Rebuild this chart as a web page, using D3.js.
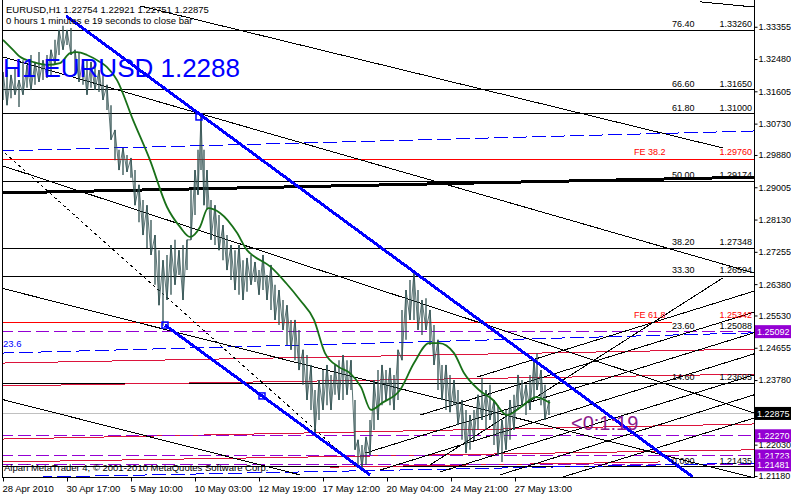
<!DOCTYPE html>
<html>
<head>
<meta charset="utf-8">
<script src="https://cdn.jsdelivr.net/npm/d3@7"></script>
<style>
  body { margin: 0; background: #fff; }
  svg { display: block; font-family: "Liberation Sans", Arial, sans-serif; }
</style>
</head>
<body>
<svg id="chart" width="791" height="495"></svg>
<script>
// ---- price bars (hour index from 28 Apr 00:00, high / low) ----
const barHour = [0,4,8,12,16,20,24,28,32,36,40,44,48,52,56,60,64,68,72,76,80,84,88,92,96,100,104,108,112,116,120,124,128,132,136,140,144,148,152,156,160,164,168,172,176,180,184,188,192,195,198,201,204,208,212,216,220,224,228,232,236,240,244,248,252,256,260,264,268,272,276,280,284,288,292,296,300,304,308,312,316,320,324,328,332,336,340,344,348,352,355,359,363,367,371,375,379,383,387,391,395,399,403,407,411,415,419,423,427,431,435,439,443,447,451,455,459,463,467,471,475,479,483,487,491,495,499,503,507,511,515,519,523,527,531,534,538,542,546];
const barHigh = [1.3213,1.3218,1.3205,1.3224,1.3191,1.3245,1.3232,1.3259,1.3240,1.3267,1.3245,1.3259,1.3273,1.3300,1.3327,1.3338,1.3327,1.3332,1.3273,1.3267,1.3245,1.3245,1.3240,1.3232,1.3218,1.3205,1.3178,1.3123,1.3056,1.3002,1.3007,1.2988,1.2980,1.2947,1.2907,1.2866,1.2852,1.2812,1.2771,1.2730,1.2703,1.2717,1.2744,1.2758,1.2730,1.2744,1.2758,1.2893,1.2947,1.3002,1.3091,1.3002,1.2947,1.2866,1.2852,1.2825,1.2798,1.2771,1.2744,1.2730,1.2744,1.2703,1.2709,1.2717,1.2698,1.2676,1.2717,1.2663,1.2690,1.2636,1.2622,1.2595,1.2581,1.2541,1.2541,1.2514,1.2460,1.2446,1.2419,1.2351,1.2378,1.2405,1.2419,1.2392,1.2419,1.2432,1.2446,1.2432,1.2432,1.2324,1.2216,1.2202,1.2224,1.2270,1.2378,1.2405,1.2419,1.2405,1.2411,1.2392,1.2460,1.2568,1.2622,1.2649,1.2671,1.2622,1.2595,1.2600,1.2568,1.2527,1.2487,1.2419,1.2419,1.2392,1.2378,1.2351,1.2324,1.2297,1.2283,1.2297,1.2338,1.2384,1.2351,1.2365,1.2324,1.2310,1.2270,1.2297,1.2324,1.2338,1.2392,1.2378,1.2365,1.2392,1.2432,1.2451,1.2405,1.2365,1.2324];
const barLow = [1.3137,1.3123,1.3142,1.3151,1.3118,1.3151,1.3170,1.3164,1.3178,1.3186,1.3191,1.3197,1.3205,1.3232,1.3259,1.3273,1.3286,1.3259,1.3205,1.3186,1.3178,1.3151,1.3170,1.3164,1.3159,1.3137,1.3110,1.3029,1.2974,1.2947,1.2934,1.2942,1.2926,1.2852,1.2806,1.2771,1.2736,1.2717,1.2636,1.2581,1.2525,1.2595,1.2609,1.2636,1.2663,1.2595,1.2676,1.2758,1.2825,1.2880,1.2947,1.2852,1.2839,1.2758,1.2744,1.2730,1.2703,1.2676,1.2649,1.2622,1.2609,1.2595,1.2617,1.2636,1.2644,1.2609,1.2622,1.2595,1.2568,1.2541,1.2527,1.2514,1.2473,1.2460,1.2432,1.2405,1.2365,1.2324,1.2297,1.2235,1.2270,1.2297,1.2310,1.2297,1.2338,1.2324,1.2324,1.2338,1.2351,1.2189,1.2145,1.2140,1.2148,1.2175,1.2243,1.2270,1.2310,1.2324,1.2310,1.2297,1.2324,1.2432,1.2487,1.2541,1.2541,1.2514,1.2500,1.2514,1.2473,1.2419,1.2351,1.2324,1.2297,1.2291,1.2310,1.2256,1.2216,1.2180,1.2189,1.2216,1.2243,1.2270,1.2243,1.2270,1.2202,1.2175,1.2156,1.2189,1.2216,1.2243,1.2297,1.2310,1.2283,1.2297,1.2324,1.2351,1.2310,1.2270,1.2283];

// ---- moving average ----
const maHour = [0,10,17,30,44,57,67,74,84,97,104,114,130,147,164,177,187,197,205,217,234,244,247,268,283,297,311,322,336,347,358,368,379,397,411,426,436,451,461,476,490,504,518,533,547];
const maPrice = [1.3300,1.3273,1.3254,1.3240,1.3232,1.3237,1.3264,1.3267,1.3259,1.3240,1.3226,1.3191,1.3083,1.2974,1.2847,1.2793,1.2766,1.2793,1.2844,1.2831,1.2777,1.2730,1.2722,1.2684,1.2641,1.2595,1.2541,1.2451,1.2413,1.2397,1.2359,1.2297,1.2316,1.2351,1.2424,1.2478,1.2478,1.2451,1.2397,1.2351,1.2324,1.2283,1.2305,1.2332,1.2316];

// ---- fibonacci / expansion levels ----
const fibPct = ["76.40","66.60","61.80","50.00","38.20","33.30","23.60","14.60","0.000"];
const fibPrice = [1.33260,1.31650,1.31000,1.29174,1.27348,1.26594,1.25088,1.23695,1.21435];
const fePct = ["FE 38.2","FE 61.8"];
const fePrice = [1.29760,1.25342];
const feEndHour = [751,669];

// ---- other horizontal objects ----
const violetLevels = [1.25092,1.22270,1.21723,1.21481];
const currentPrice = 1.22875;

// ---- trendlines: [hour0, price0, hour1, price1] ----
const blackLines = [
  [697,1.3403,751,1.3389],
  [137,1.3392,720,1.3007],
  [-3,1.3256,751,1.2668],
  [-3,1.2961,751,1.2289],
  [-3,1.2628,751,1.2113],
  [-3,1.2327,297,1.2121]
];
const fanLines = [
  [427,1.2148,720,1.2655],
  [474,1.2386,751,1.2619],
  [417,1.2283,751,1.2562],
  [362,1.2180,751,1.2506],
  [377,1.2134,751,1.2449],
  [437,1.2129,751,1.2392],
  [497,1.2121,751,1.2338],
  [557,1.2113,751,1.2275]
];
const dottedLine = [[2,1.2993,354,1.2142]];
const thickBlack = [[-3,1.2885,751,1.2928]];
const blueDashed = [
  [-3,1.2999,751,1.3053],
  [-3,1.2451,751,1.2506],
  [-3,1.2113,751,1.2153]
];
const crimsonLines = [
  [-3,1.2424,751,1.2462],
  [-3,1.2362,751,1.2394],
  [-3,1.2218,751,1.2259],
  [-3,1.2156,751,1.2189],
  [327,1.2142,657,1.2156]
];
const blueChannel = [
  [63,1.3365,690,1.2115],
  [162,1.2527,367,1.2121]
];
const anchorHour = [196,162,259];
const anchorPrice = [1.3091,1.2527,1.2335];

// ---- axes ----
const axisTicks = [1.33355,1.32480,1.31605,1.30730,1.29880,1.29005,1.28130,1.27255,1.26380,1.25530,1.24655,1.23780,1.22030,1.21180];
const timeTickHour = [0,64,128,192,256,320,384,448,512];
const timeLabels = ["28 Apr 2010","30 Apr 17:00","5 May 10:00","10 May 03:00","12 May 19:00","17 May 12:00","20 May 04:00","24 May 21:00","27 May 13:00"];

const x = d3.scaleLinear().domain([0, 751]).range([3, 754]);
const y = d3.scaleLinear().domain([1.2118, 1.3408]).range([476, 0]);

const svg = d3.select("#chart");
svg.append("rect").attr("width", 791).attr("height", 495).attr("fill", "#fff");
svg.append("defs").append("clipPath").attr("id", "plot")
  .append("rect").attr("x", 2).attr("y", 0).attr("width", 752).attr("height", 477);
const g = svg.append("g").attr("clip-path", "url(#plot)");

function drawLines(list, stroke, width, dash) {
  g.append("g").selectAll("line").data(list).enter().append("line")
    .attr("x1", d => x(d[0])).attr("y1", d => y(d[1]))
    .attr("x2", d => x(d[2])).attr("y2", d => y(d[3]))
    .attr("stroke", stroke).attr("stroke-width", width)
    .attr("stroke-dasharray", dash || null)
    .attr("shape-rendering", "crispEdges");
}
const hLine = (p, h0, h1) => [h0, p, h1, p];

// current price line
drawLines([hLine(currentPrice, -3, 751)], "#c0c0c0", 1);

// fibo levels (23.60 sits under the violet level, not drawn)
drawLines(fibPrice.filter((p, i) => fibPct[i] !== "23.60").map(p => hLine(p, -3, 751)), "#000", 1);
drawLines(fePrice.map((p, i) => hLine(p, -3, feEndHour[i])), "#ff0000", 1);

drawLines(crimsonLines, "#dc143c", 1);
drawLines(violetLevels.map(p => hLine(p, -3, 751)), "#9400d3", 1, "13,5");
drawLines(blueDashed, "#0000ff", 1, "14,5");
drawLines(blackLines, "#000", 1);
drawLines(fanLines, "#000", 1);
drawLines(dottedLine, "#000", 1, "3,3");
drawLines(thickBlack, "#000", 3);

// price bars
const bars = barHour.map((h, i) => ({ h, hi: barHigh[i], lo: barLow[i] }));
g.append("g").selectAll("line").data(bars).enter().append("line")
  .attr("x1", d => x(d.h)).attr("x2", d => x(d.h))
  .attr("y1", d => y(d.hi)).attr("y2", d => y(d.lo))
  .attr("stroke", "#2f4f4f").attr("stroke-width", 1.3);
g.append("path")
  .datum(bars)
  .attr("fill", "none").attr("stroke", "#2f4f4f").attr("stroke-width", 0.8)
  .attr("d", d3.line().x(d => x(d.h)).y((d, i) => y(i % 2 ? d.lo : d.hi)));

// moving average
g.append("path")
  .datum(maHour.map((h, i) => [h, maPrice[i]]))
  .attr("fill", "none").attr("stroke", "#187018").attr("stroke-width", 1.8)
  .attr("d", d3.line().x(d => x(d[0])).y(d => y(d[1])).curve(d3.curveMonotoneX));

// blue channel
drawLines(blueChannel, "#0000ff", 3);
g.append("g").selectAll("rect").data(anchorHour).enter().append("rect")
  .attr("x", (d, i) => x(d) - 3).attr("y", (d, i) => y(anchorPrice[i]) - 3)
  .attr("width", 6).attr("height", 6)
  .attr("fill", "none").attr("stroke", "#0000ff").attr("stroke-width", 1.5);

// frame
svg.append("line").attr("x1", 2.5).attr("x2", 2.5).attr("y1", 0).attr("y2", 477.5).attr("stroke", "#000");
svg.append("line").attr("x1", 2).attr("x2", 755).attr("y1", 477.5).attr("y2", 477.5).attr("stroke", "#000");
svg.append("line").attr("x1", 754.5).attr("x2", 754.5).attr("y1", 0).attr("y2", 478).attr("stroke", "#000");

// right price axis
const yAxis = svg.append("g").attr("transform", "translate(754.5,0)")
  .call(d3.axisRight(y).tickValues(axisTicks).tickFormat(d3.format(".5f")).tickSize(3).tickPadding(1));
yAxis.select(".domain").remove();
yAxis.selectAll("text").attr("font-size", 9).attr("font-family", "Liberation Sans, Arial, sans-serif").attr("fill", "#000");

// bottom time axis
const xAxis = svg.append("g").attr("transform", "translate(0,477.5)")
  .call(d3.axisBottom(x).tickValues(timeTickHour).tickFormat((d, i) => timeLabels[i]).tickSize(4).tickPadding(3));
xAxis.select(".domain").remove();
xAxis.selectAll("text").attr("text-anchor", "start").attr("dx", -1).attr("dy", "0.8em")
  .attr("font-size", 9.5).attr("font-family", "Liberation Sans, Arial, sans-serif").attr("fill", "#000");

// level labels
const lab = svg.append("g").attr("font-size", 9);
fibPct.forEach((t, i) => {
  const yy = y(fibPrice[i]) - 3;
  lab.append("text").attr("x", 672).attr("y", yy).text(t);
  lab.append("text").attr("x", 752).attr("y", yy).attr("text-anchor", "end").text(fibPrice[i].toFixed(5));
});
fePct.forEach((t, i) => {
  const yy = y(fePrice[i]) - 4;
  lab.append("text").attr("x", 634).attr("y", yy).attr("fill", "#ff0000").text(t);
  lab.append("text").attr("x", 752).attr("y", yy).attr("text-anchor", "end").attr("fill", "#ff0000").text(fePrice[i].toFixed(5));
});

// price boxes on the axis
const boxes = violetLevels.map(p => ({ p, c: "#9400d3" })).concat([{ p: currentPrice, c: "#000" }]);
const bx = svg.append("g");
boxes.forEach(b => {
  bx.append("rect").attr("x", 755).attr("y", y(b.p) - 6.5).attr("width", 36).attr("height", 13).attr("fill", b.c);
  bx.append("text").attr("x", 757).attr("y", y(b.p) + 3.5).attr("fill", "#fff").attr("font-size", 9).text(b.p.toFixed(5));
});

// texts
svg.append("text").attr("x", 6).attr("y", 13).attr("font-size", 9.5)
  .text("EURUSD,H1  1.22754 1.22921 1.22751 1.22875");
svg.append("text").attr("x", 6).attr("y", 24).attr("font-size", 9.5)
  .text("0 hours 1 minutes e 19 seconds to close bar");
svg.append("text").attr("x", 3).attr("y", 77).attr("font-size", 26).attr("fill", "#0000ff")
  .text("H1 EURUSD 1.2288");
svg.append("text").attr("x", 571).attr("y", 430).attr("font-size", 20).attr("fill", "#8b1a8b")
  .text("<0:1:19");
svg.append("text").attr("x", 3).attr("y", 347).attr("font-size", 9.5).attr("fill", "#0000ff").text("23.6");
svg.append("text").attr("x", 4).attr("y", 471).attr("font-size", 9.5)
  .text("Alpari MetaTrader 4, © 2001-2010 MetaQuotes Software Corp.");
</script>
</body>
</html>
